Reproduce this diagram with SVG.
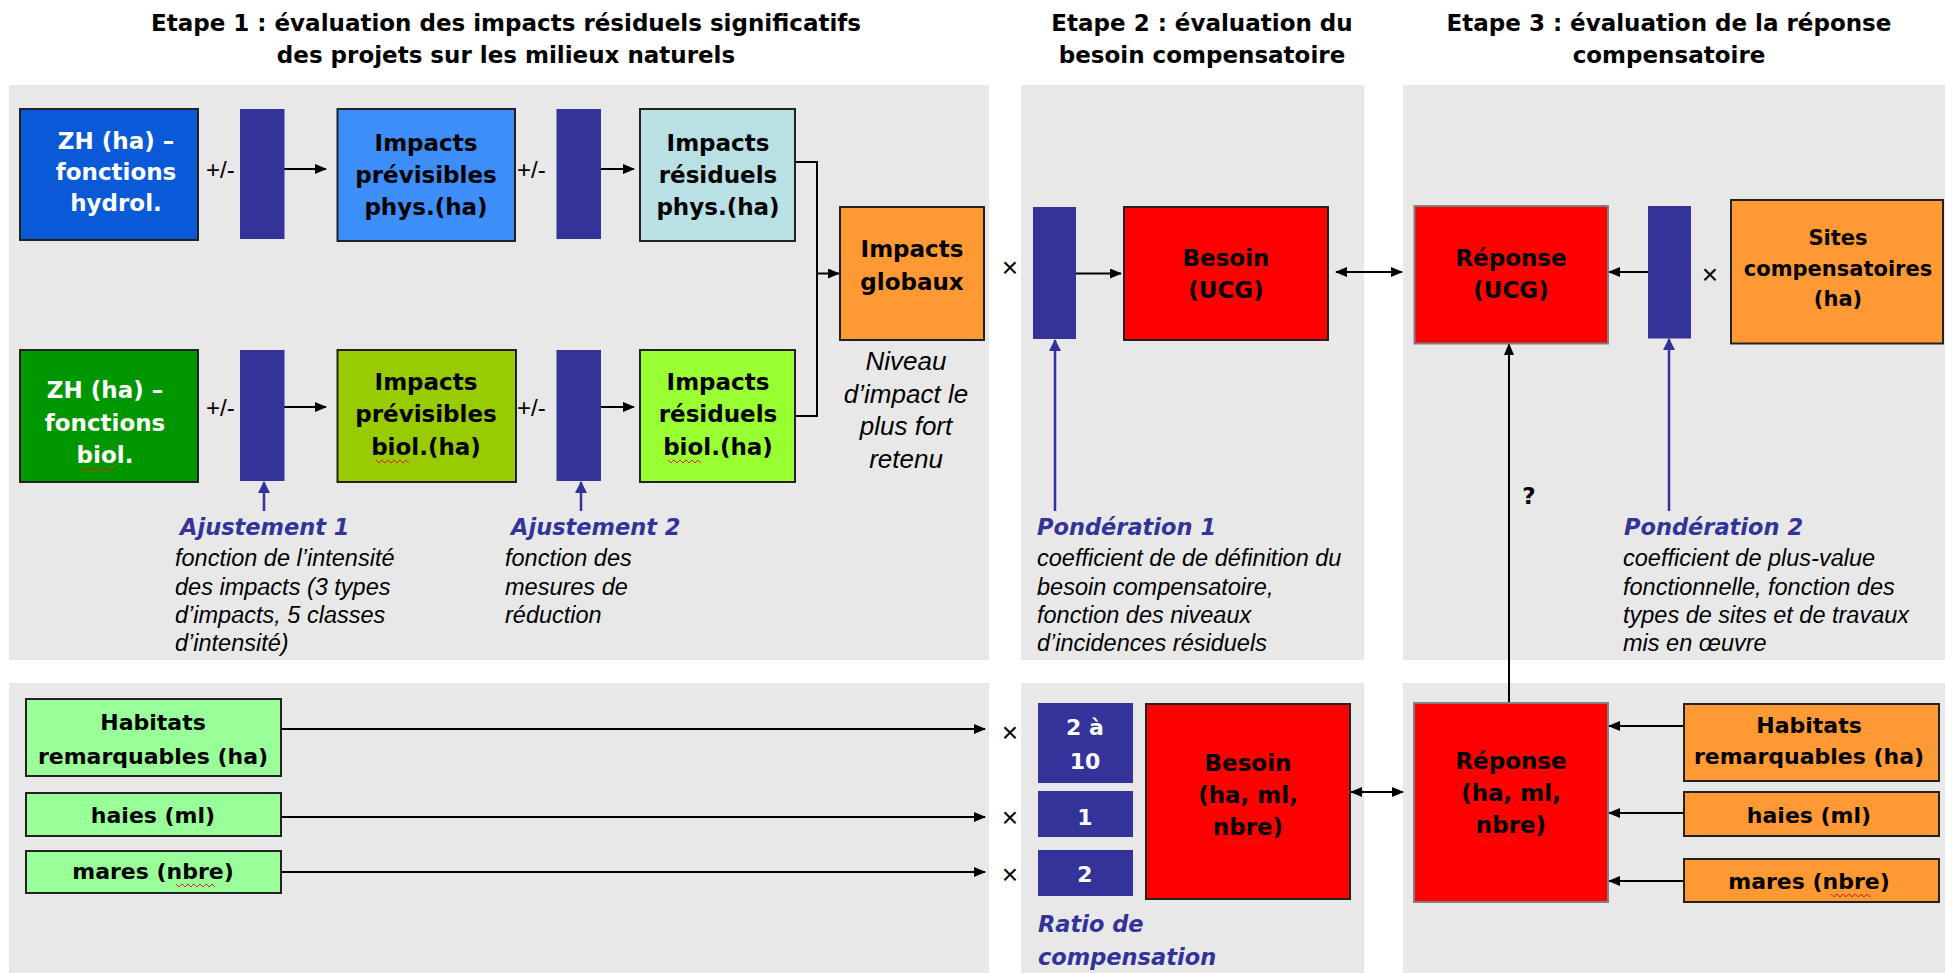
<svg xmlns="http://www.w3.org/2000/svg" width="1945" height="973" viewBox="0 0 1945 973">
<defs>
<marker id="ah" markerUnits="userSpaceOnUse" markerWidth="12" markerHeight="10" refX="11" refY="5" orient="auto-start-reverse"><path d="M0,0 L12,5 L0,10 z" fill="#000"/></marker>
<marker id="ahb" markerUnits="userSpaceOnUse" markerWidth="12" markerHeight="12" refX="11" refY="6" orient="auto"><path d="M0,0 L12,6 L0,12 z" fill="#333399"/></marker>
<style>
.panel{fill:#e8e8e8}
.box{stroke:#222;stroke-width:2}
.rep{stroke:#808080;stroke-width:2}
.bar{fill:#333399}
.t{font-family:"DejaVu Sans",Verdana,sans-serif;font-weight:bold;font-size:23px;text-anchor:middle;fill:#000}
.w{fill:#fff}
.s22{font-size:22px}
.s21{font-size:21px}
.title{font-family:"DejaVu Sans",Verdana,sans-serif;font-weight:bold;font-size:23px;text-anchor:middle;fill:#000}
.lab{font-family:"DejaVu Sans",Verdana,sans-serif;font-weight:bold;font-style:italic;font-size:22.5px;fill:#333399}
.it{font-family:"Liberation Sans",Arial,sans-serif;font-style:italic;font-size:23.5px;fill:#000}
.niv{font-family:"Liberation Sans",Arial,sans-serif;font-style:italic;font-size:26px;fill:#000;text-anchor:middle}
.op{font-family:"Liberation Sans",Arial,sans-serif;font-size:24px;fill:#000}
.x{font-family:"Liberation Sans",Arial,sans-serif;font-size:28px;fill:#000;text-anchor:middle}
.ln{fill:none;stroke:#000;stroke-width:2}
.bl{fill:none;stroke:#333399;stroke-width:2.5}
.sq{fill:none;stroke:#e02020;stroke-width:1}
</style>
</defs>

<g id="titles">
<text class="title" x="506" y="31">Etape 1 : évaluation des impacts résiduels significatifs</text>
<text class="title" x="506" y="63">des projets sur les milieux naturels</text>
<text class="title" x="1202" y="31">Etape 2 : évaluation du</text>
<text class="title" x="1202" y="63">besoin compensatoire</text>
<text class="title" x="1669" y="31">Etape 3 : évaluation de la réponse</text>
<text class="title" x="1669" y="63">compensatoire</text>
</g>

<g id="panels">
<rect class="panel" x="9" y="85" width="980" height="575"/>
<rect class="panel" x="1021" y="85" width="343" height="575"/>
<rect class="panel" x="1403" y="85" width="542" height="575"/>
<rect class="panel" x="9" y="683" width="980" height="290"/>
<rect class="panel" x="1021" y="683" width="343" height="290"/>
<rect class="panel" x="1403" y="683" width="542" height="290"/>
</g>

<g id="connectors">
<line class="ln" x1="284" y1="169" x2="326" y2="169" marker-end="url(#ah)"/>
<line class="ln" x1="601" y1="169" x2="634" y2="169" marker-end="url(#ah)"/>
<line class="ln" x1="284" y1="407" x2="326" y2="407" marker-end="url(#ah)"/>
<line class="ln" x1="601" y1="407" x2="634" y2="407" marker-end="url(#ah)"/>
<polyline class="ln" points="795,162 817,162 817,416 795,416"/>
<line class="ln" x1="817" y1="273.5" x2="839" y2="273.5" marker-end="url(#ah)"/>
<line class="ln" x1="1076" y1="273.5" x2="1121" y2="273.5" marker-end="url(#ah)"/>
<line class="ln" x1="1336" y1="272" x2="1402" y2="272" marker-start="url(#ah)" marker-end="url(#ah)"/>
<line class="ln" x1="1648" y1="272" x2="1609" y2="272" marker-end="url(#ah)"/>
<line class="ln" x1="1509" y1="703" x2="1509" y2="344" marker-end="url(#ah)"/>
<line class="ln" x1="281" y1="729" x2="985" y2="729" marker-end="url(#ah)"/>
<line class="ln" x1="281" y1="817" x2="985" y2="817" marker-end="url(#ah)"/>
<line class="ln" x1="281" y1="872" x2="985" y2="872" marker-end="url(#ah)"/>
<line class="ln" x1="1351" y1="792" x2="1403" y2="792" marker-start="url(#ah)" marker-end="url(#ah)"/>
<line class="ln" x1="1684" y1="726" x2="1609" y2="726" marker-end="url(#ah)"/>
<line class="ln" x1="1684" y1="813" x2="1609" y2="813" marker-end="url(#ah)"/>
<line class="ln" x1="1684" y1="881" x2="1609" y2="881" marker-end="url(#ah)"/>
<line class="bl" x1="264" y1="511" x2="264" y2="482" marker-end="url(#ahb)"/>
<line class="bl" x1="581" y1="511" x2="581" y2="482" marker-end="url(#ahb)"/>
<line class="bl" x1="1055" y1="511" x2="1055" y2="340" marker-end="url(#ahb)"/>
<line class="bl" x1="1669" y1="511" x2="1669" y2="339" marker-end="url(#ahb)"/>
</g>

<g id="zh-hydrol">
<rect class="box" x="20" y="109" width="178" height="131" fill="#0a5ad8"/>
<text class="t w" x="116" y="149">ZH (ha) –</text>
<text class="t w" x="116" y="180">fonctions</text>
<text class="t w" x="116" y="211">hydrol.</text>
</g>
<g id="bar-h1"><rect class="bar" x="240" y="109" width="44.5" height="130"/></g>
<text class="op" x="206" y="178">+/-</text>
<g id="prev-phys">
<rect class="box" x="337.5" y="109" width="177.5" height="132" fill="#3d8ef8"/>
<text class="t" x="426" y="151">Impacts</text>
<text class="t" x="426" y="183">prévisibles</text>
<text class="t" x="426" y="215">phys.(ha)</text>
</g>
<text class="op" x="517" y="178">+/-</text>
<g id="bar-h2"><rect class="bar" x="556.5" y="109" width="44.5" height="130"/></g>
<g id="res-phys">
<rect class="box" x="640" y="109" width="155" height="132" fill="#b9e0e3"/>
<text class="t" x="718" y="151">Impacts</text>
<text class="t" x="718" y="183">résiduels</text>
<text class="t" x="718" y="215">phys.(ha)</text>
</g>

<g id="zh-biol">
<rect class="box" x="20" y="350" width="178" height="132" fill="#009600"/>
<text class="t w" x="105" y="398">ZH (ha) –</text>
<text class="t w" x="105" y="430.5">fonctions</text>
<text class="t w" x="105" y="463">biol.</text>
<path class="sq" d="M82,468 l3,3 l3,-3 l3,3 l3,-3 l3,3 l3,-3 l3,3 l3,-3 l3,3 l3,-3 l3,3"/>
</g>
<g id="bar-b1"><rect class="bar" x="240" y="350" width="44.5" height="131"/></g>
<text class="op" x="206" y="416">+/-</text>
<g id="prev-biol">
<rect class="box" x="337.5" y="350" width="178.5" height="132" fill="#99cc00"/>
<text class="t" x="426" y="390">Impacts</text>
<text class="t" x="426" y="422">prévisibles</text>
<text class="t" x="426" y="455">biol.(ha)</text>
<path class="sq" d="M376,460 l3,3 l3,-3 l3,3 l3,-3 l3,3 l3,-3 l3,3 l3,-3 l3,3 l3,-3 l3,3"/>
</g>
<text class="op" x="517" y="416">+/-</text>
<g id="bar-b2"><rect class="bar" x="556.5" y="350" width="44.5" height="131"/></g>
<g id="res-biol">
<rect class="box" x="640" y="350" width="155" height="132" fill="#99ff33"/>
<text class="t" x="718" y="390">Impacts</text>
<text class="t" x="718" y="421.5">résiduels</text>
<text class="t" x="718" y="455">biol.(ha)</text>
<path class="sq" d="M668,460 l3,3 l3,-3 l3,3 l3,-3 l3,3 l3,-3 l3,3 l3,-3 l3,3 l3,-3 l3,3"/>
</g>

<g id="impacts-globaux">
<rect class="box" x="840" y="207" width="144" height="133" fill="#ff9933"/>
<text class="t" x="912" y="257">Impacts</text>
<text class="t" x="912" y="290">globaux</text>
</g>
<g id="niveau">
<text class="niv" x="906" y="370">Niveau</text>
<text class="niv" x="906" y="402.5">d’impact le</text>
<text class="niv" x="906" y="435">plus fort</text>
<text class="niv" x="906" y="467.5">retenu</text>
</g>

<g id="ajustement1">
<text class="lab" x="180" y="535">Ajustement 1</text>
<text class="it" x="175" y="566">fonction de l’intensité</text>
<text class="it" x="175" y="595">des impacts (3 types</text>
<text class="it" x="175" y="623">d’impacts, 5 classes</text>
<text class="it" x="175" y="651">d’intensité)</text>
</g>
<g id="ajustement2">
<text class="lab" x="511" y="535">Ajustement 2</text>
<text class="it" x="505" y="566">fonction des</text>
<text class="it" x="505" y="595">mesures de</text>
<text class="it" x="505" y="623">réduction</text>
</g>

<text class="x" x="1010" y="277">×</text>
<g id="bar-p1"><rect class="bar" x="1033" y="207" width="43" height="132"/></g>
<g id="besoin-ucg">
<rect class="box" x="1124" y="207" width="204" height="133" fill="#ff0000"/>
<text class="t" x="1226" y="265.5">Besoin</text>
<text class="t" x="1226" y="297.5">(UCG)</text>
</g>
<g id="ponderation1">
<text class="lab" x="1037" y="535">Pondération 1</text>
<text class="it" x="1037" y="566">coefficient de de définition du</text>
<text class="it" x="1037" y="595">besoin compensatoire,</text>
<text class="it" x="1037" y="623">fonction des niveaux</text>
<text class="it" x="1037" y="651">d’incidences résiduels</text>
</g>

<g id="reponse-ucg">
<rect class="rep" x="1414.5" y="206" width="193.5" height="137.5" fill="#ff0000"/>
<text class="t" x="1511" y="266">Réponse</text>
<text class="t" x="1511" y="298">(UCG)</text>
</g>
<g id="bar-p2"><rect class="bar" x="1648" y="206" width="43" height="132.5"/></g>
<text class="x" x="1710" y="284">×</text>
<g id="sites">
<rect class="box" x="1731" y="200" width="212" height="143.5" fill="#ff9933"/>
<text class="t s21" x="1838" y="245">Sites</text>
<text class="t s21" x="1838" y="275.5">compensatoires</text>
<text class="t s21" x="1838" y="306">(ha)</text>
</g>
<text class="t" x="1529" y="504" style="text-anchor:middle">?</text>
<g id="ponderation2">
<text class="lab" x="1624" y="535">Pondération 2</text>
<text class="it" x="1623" y="566">coefficient de plus-value</text>
<text class="it" x="1623" y="595">fonctionnelle, fonction des</text>
<text class="it" x="1623" y="623">types de sites et de travaux</text>
<text class="it" x="1623" y="651">mis en œuvre</text>
</g>

<g id="habitats-g">
<rect class="box" x="26" y="699" width="255" height="77" fill="#99ff99"/>
<text class="t s22" x="153" y="730">Habitats</text>
<text class="t s22" x="153" y="764">remarquables (ha)</text>
</g>
<g id="haies-g">
<rect class="box" x="26" y="793" width="255" height="43" fill="#99ff99"/>
<text class="t s22" x="153" y="823">haies (ml)</text>
</g>
<g id="mares-g">
<rect class="box" x="26" y="851" width="255" height="42" fill="#99ff99"/>
<text class="t s22" x="153" y="879">mares (nbre)</text>
<path class="sq" d="M176,884 l3,3 l3,-3 l3,3 l3,-3 l3,3 l3,-3 l3,3 l3,-3 l3,3 l3,-3 l3,3 l3,-3 l3,3"/>
</g>

<text class="x" x="1010" y="742">×</text>
<text class="x" x="1010" y="827">×</text>
<text class="x" x="1010" y="884">×</text>
<g id="ratio-1"><rect class="bar" x="1038" y="703" width="95" height="80"/>
<text class="t s22 w" x="1085" y="735">2 à</text>
<text class="t s22 w" x="1085" y="769">10</text></g>
<g id="ratio-2"><rect class="bar" x="1038" y="791" width="95" height="46"/>
<text class="t s22 w" x="1085" y="825">1</text></g>
<g id="ratio-3"><rect class="bar" x="1038" y="850" width="95" height="46"/>
<text class="t s22 w" x="1085" y="882">2</text></g>
<g id="ratio-label">
<text class="lab" x="1038" y="932">Ratio de</text>
<text class="lab" x="1038" y="965">compensation</text>
</g>
<g id="besoin-bas">
<rect class="box" x="1146" y="704" width="204" height="195" fill="#ff0000"/>
<text class="t" x="1248" y="771">Besoin</text>
<text class="t" x="1248" y="803">(ha, ml,</text>
<text class="t" x="1248" y="835">nbre)</text>
<path class="sq" d="M1226,840 l3,3 l3,-3 l3,3 l3,-3 l3,3 l3,-3 l3,3 l3,-3 l3,3 l3,-3 l3,3 l3,-3 l3,3"/>
</g>
<g id="reponse-bas">
<rect class="rep" x="1414" y="703" width="194" height="199" fill="#ff0000"/>
<text class="t" x="1511" y="769">Réponse</text>
<text class="t" x="1511" y="801">(ha, ml,</text>
<text class="t" x="1511" y="833">nbre)</text>
<path class="sq" d="M1478,838 l3,3 l3,-3 l3,3 l3,-3 l3,3 l3,-3 l3,3 l3,-3 l3,3 l3,-3 l3,3 l3,-3 l3,3"/>
</g>
<g id="habitats-o">
<rect class="box" x="1684" y="704" width="255" height="77" fill="#ff9933"/>
<text class="t s22" x="1809" y="733">Habitats</text>
<text class="t s22" x="1809" y="764">remarquables (ha)</text>
</g>
<g id="haies-o">
<rect class="box" x="1684" y="792" width="255" height="44" fill="#ff9933"/>
<text class="t s22" x="1809" y="823">haies (ml)</text>
</g>
<g id="mares-o">
<rect class="box" x="1684" y="859" width="255" height="43" fill="#ff9933"/>
<text class="t s22" x="1809" y="889">mares (nbre)</text>
<path class="sq" d="M1831,894 l3,3 l3,-3 l3,3 l3,-3 l3,3 l3,-3 l3,3 l3,-3 l3,3 l3,-3 l3,3 l3,-3 l3,3"/>
</g>
</svg>
